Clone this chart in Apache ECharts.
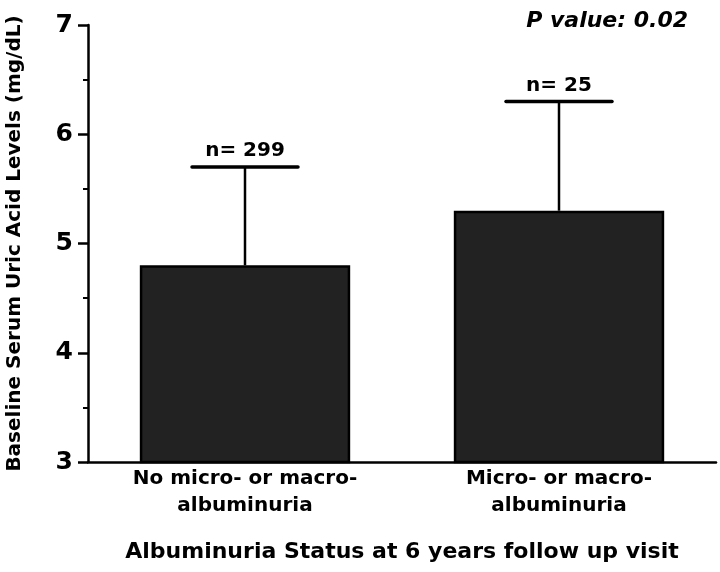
<!DOCTYPE html>
<html>
<head>
<meta charset="utf-8">
<script src="https://cdn.jsdelivr.net/npm/echarts@6/dist/echarts.min.js"></script>
<style>
html,body{margin:0;padding:0;background:#fff;}
#chart{width:720px;height:572px;}
</style>
</head>
<body>
<div id="chart"></div>
<script>
var categories = ["No micro- or macro-\nalbuminuria", "Micro- or macro-\nalbuminuria"];
var means = [4.8, 5.3];
var upperErr = [5.7, 6.3];
var nLabels = ["n= 299", "n= 25"];
var yTicks = [3, 4, 5, 6, 7];
var pValueText = "P value: 0.02";
var yTitle = "Baseline Serum Uric Acid Levels (mg/dL)";
var xTitle = "Albuminuria Status at 6 years follow up visit";

var FONT = "'DejaVu Sans', 'Liberation Sans', Arial, sans-serif";
var chart = echarts.init(document.getElementById('chart'), null, {renderer: 'canvas'});

var errData = categories.map(function (c, i) { return [i, means[i], upperErr[i]]; });

chart.setOption({
  animation: false,
  backgroundColor: '#fff',
  textStyle: {fontFamily: FONT},
  title: {
    text: pValueText,
    right: 32,
    top: 10,
    padding: 0,
    textStyle: {fontFamily: FONT, fontSize: 22, fontWeight: 'bold', fontStyle: 'italic', color: '#000'}
  },
  grid: {left: 88, right: 4, top: 25, bottom: 110, containLabel: false, outerBoundsMode: 'none'},
  xAxis: {
    type: 'category',
    data: categories,
    axisTick: {show: false},
    axisLine: {lineStyle: {color: '#000', width: 2.5}},
    axisLabel: {color: '#000', fontSize: 20, fontWeight: 'bold', fontFamily: FONT, lineHeight: 27, margin: 3},
    name: xTitle,
    nameLocation: 'middle',
    nameGap: 79,
    nameTextStyle: {color: '#000', fontSize: 22, fontWeight: 'bold', fontFamily: FONT}
  },
  yAxis: {
    type: 'value',
    min: yTicks[0], max: yTicks[yTicks.length - 1], interval: 1,
    axisLine: {show: true, lineStyle: {color: '#000', width: 2.5}},
    axisTick: {show: true, length: 10, lineStyle: {color: '#000', width: 2.5}},
    minorTick: {show: true, splitNumber: 2, length: 5, lineStyle: {color: '#000', width: 2}},
    splitLine: {show: false},
    axisLabel: {color: '#000', fontSize: 25, fontWeight: 'bold', fontFamily: FONT, margin: 15},
    name: yTitle,
    nameLocation: 'middle',
    nameGap: 63,
    nameRotate: 90,
    nameTextStyle: {color: '#000', fontSize: 20, fontWeight: 'bold', fontFamily: FONT}
  },
  series: [
    {
      type: 'bar',
      data: means,
      barWidth: '67%',
      itemStyle: {color: '#222', borderColor: '#000', borderWidth: 2.5},
      z: 2
    },
    {
      type: 'custom',
      data: errData,
      z: 3,
      renderItem: function (params, api) {
        var base = api.coord([api.value(0), api.value(1)]);
        var top = api.coord([api.value(0), api.value(2)]);
        var half = 53;
        return {
          type: 'group',
          children: [
            {type: 'line', shape: {x1: base[0], y1: base[1], x2: top[0], y2: top[1]}, style: {stroke: '#000', lineWidth: 2.5}},
            {type: 'line', shape: {x1: top[0] - half, y1: top[1], x2: top[0] + half, y2: top[1]}, style: {stroke: '#000', lineWidth: 3.5, lineCap: 'round'}},
            {type: 'text', x: top[0], y: top[1] - 6, style: {text: nLabels[params.dataIndex], fill: '#000', font: 'bold 20px ' + FONT, textAlign: 'center', textVerticalAlign: 'bottom'}}
          ]
        };
      }
    }
  ]
});
</script>
</body>
</html>
